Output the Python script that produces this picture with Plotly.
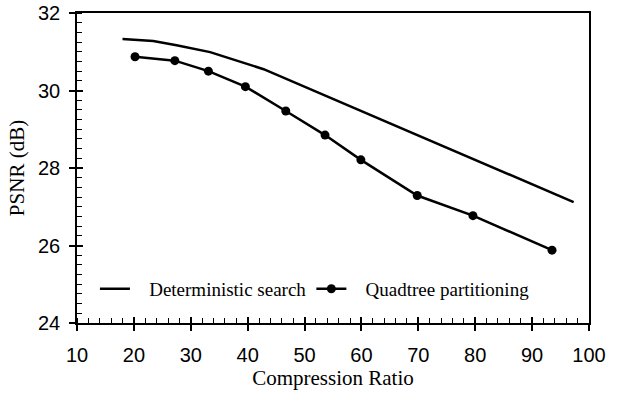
import plotly.graph_objects as go

det_x = [18.0, 23.4, 27.5, 33.4, 42.8, 97.3]
det_y = [31.33, 31.28, 31.17, 30.99, 30.55, 27.12]

quad_x = [20.2, 27.2, 33.1, 39.6, 46.7, 53.6, 59.9, 69.8, 79.6, 93.5]
quad_y = [30.87, 30.77, 30.50, 30.10, 29.47, 28.85, 28.21, 27.29, 26.77, 25.88]

series_names = ["Deterministic search", "Quadtree partitioning"]

x_range = [10, 100]
y_range = [24, 32]

pad = "\u00a0\u00a0\u00a0"

fig = go.Figure()
fig.add_trace(go.Scatter(x=det_x, y=det_y, mode="lines", name=pad + series_names[0],
                         line=dict(color="black", width=2.5)))
fig.add_trace(go.Scatter(x=quad_x, y=quad_y, mode="lines+markers", name=pad + series_names[1],
                         line=dict(color="black", width=2.5),
                         marker=dict(color="black", size=9)))
# invisible trace for overlay axes (inner major ticks)
fig.add_trace(go.Scatter(x=[None], y=[None], xaxis="x2", yaxis="y2", showlegend=False,
                         hoverinfo="skip"))

tickfont = dict(family="Liberation Sans, Arial, sans-serif", size=20, color="black")
titlefont = dict(family="Liberation Serif, Times New Roman, serif", size=21, color="black")

fig.update_layout(
    width=618, height=398,
    margin=dict(l=77, r=29, t=13, b=75, autoexpand=False),
    plot_bgcolor="white", paper_bgcolor="white",
    showlegend=True,
    legend=dict(orientation="h", x=0.035, y=0.11, xanchor="left", yanchor="middle",
                font=dict(family="Liberation Serif, Times New Roman, serif", size=19, color="black"),
                bgcolor="rgba(0,0,0,0)", itemwidth=30, tracegroupgap=0),
    xaxis=dict(range=x_range, dtick=10, tick0=10, showgrid=False, zeroline=False,
               showline=True, linecolor="black", linewidth=1.5, mirror=True,
               ticks="outside", ticklen=6, tickwidth=1.5, tickcolor="black",
               tickfont=tickfont, ticklabelstandoff=7, automargin=False,
               minor=dict(dtick=2, ticks="inside", ticklen=5, tickwidth=1, tickcolor="black",
                          showgrid=False),
               title=dict(text="Compression Ratio", font=titlefont, standoff=2)),
    yaxis=dict(range=y_range, dtick=2, tick0=24, showgrid=False, zeroline=False,
               showline=True, linecolor="black", linewidth=1.5, mirror=True,
               ticks="outside", ticklen=6, tickwidth=1.5, tickcolor="black",
               tickfont=tickfont, ticklabelstandoff=5, automargin=False,
               minor=dict(dtick=0.25, ticks="inside", ticklen=5, tickwidth=1, tickcolor="black",
                          showgrid=False),
               title=dict(text="PSNR (dB)", font=titlefont, standoff=8)),
    xaxis2=dict(range=x_range, overlaying="x", dtick=10, tick0=10, showgrid=False,
                zeroline=False, showline=False, ticks="inside", ticklen=6, tickwidth=1.5,
                tickcolor="black", showticklabels=False, automargin=False),
    yaxis2=dict(range=y_range, overlaying="y", dtick=2, tick0=24, showgrid=False,
                zeroline=False, showline=False, ticks="inside", ticklen=6, tickwidth=1.5,
                tickcolor="black", showticklabels=False, automargin=False),
)

fig.write_html("out.html")
